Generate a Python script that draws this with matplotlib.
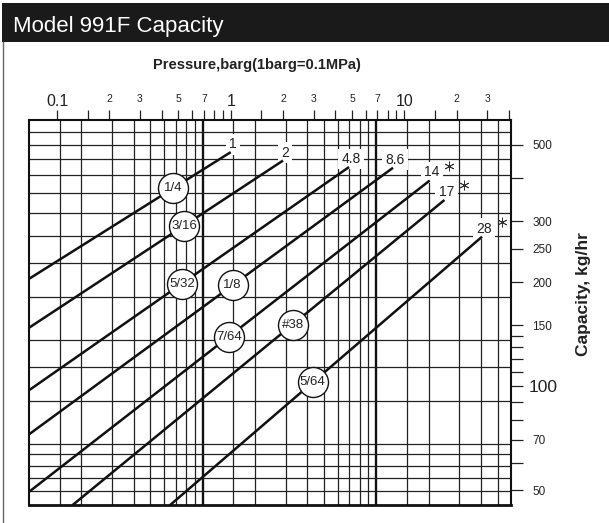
import numpy as np
import matplotlib
matplotlib.use("Agg")
import matplotlib.pyplot as plt
from matplotlib.patches import Rectangle
from matplotlib.lines import Line2D
from matplotlib.ticker import FixedLocator, FixedFormatter, NullLocator
from matplotlib.transforms import offset_copy

plt.rcParams['font.family'] = ['Liberation Sans', 'DejaVu Sans']

PSI_PER_BARG = 14.5038
LB_PER_KG = 2.20462

# ---------------- data ----------------
max_pressure_labels = ['1', '2', '4.8', '8.6', '14', '17', '28']
orifice_labels = ['1/4', '3/16', '5/32', '1/8', '7/64', '#38', '5/64']
start_pressure = [0.0689, 0.0689, 0.0689, 0.0689, 0.0689, 0.123, 0.448]   # barg
start_capacity = [204.6, 147.7, 97.4, 72.6, 49.5, 45.36, 45.36]           # kg/hr
end_pressure = [1.0, 2.0, 4.8, 8.6, 14.0, 17.0, 28.0]                     # barg
end_capacity = [476, 450, 431, 429, 394, 346, 271]                        # kg/hr
orifice_label_pressure = [0.468, 0.539, 0.523, 1.024, 0.976, 2.27, 2.96]  # barg
asterisk = [False, False, False, False, True, True, True]

grid_psi = [1.5, 2, 3, 4, 5, 6, 7, 8, 9, 15, 20, 30, 40, 50, 60, 70, 80, 90,
            150, 200, 300, 400, 500]
thick_psi = [10, 100]
grid_lb = [110, 120, 130, 140, 150, 200, 250, 300, 400, 500, 600, 700, 800,
           900, 1000, 1100, 1200]
x_limits_psi = (1, 600)
y_limits_lb = (100, 1300)

top_ticks = [0.1, 0.15, 0.2, 0.3, 0.4, 0.5, 0.6, 0.7, 0.8, 0.9, 1, 1.5, 2, 3,
             4, 5, 6, 7, 8, 9, 10, 15, 20, 30, 40]
top_labels = ['0.1', '', '2', '3', '', '5', '', '7', '', '', '1', '', '2', '3',
              '', '5', '', '7', '', '', '10', '', '2', '3', '']
top_large = ['0.1', '1', '10']
right_ticks = [50, 60, 70, 80, 90, 100, 110, 120, 130, 140, 150, 200, 250, 300,
               400, 500]
right_labels = ['50', '', '70', '', '', '100', '', '', '', '', '150', '200',
                '250', '300', '', '500']

# ---------------- figure ----------------
W, H = 609, 523
fig = plt.figure(figsize=(W / 100, H / 100), dpi=100)
fig.patch.set_facecolor('white')

# title bar
fig.add_artist(Rectangle((1.7 / W, 1 - 41.7 / H), 1, (41.7 - 3.3) / H,
                         transform=fig.transFigure, facecolor='#1a1a1a',
                         edgecolor='none'))
fig.text(12.7 / W, 1 - 31.7 / H, 'Model 991F Capacity', color='white',
         fontsize=16, ha='left', va='baseline')
fig.add_artist(Line2D([2.7 / W, 2.7 / W], [0, 1 - 41.7 / H],
                      transform=fig.transFigure, color='#666666', lw=1.0))

fig.text(257 / W, 1 - 68.5 / H, 'Pressure,barg(1barg=0.1MPa)', fontsize=10.5,
         fontweight='bold', ha='center', va='baseline', color='#222222')
fig.text(583.5 / W, 1 - 294 / H, 'Capacity, kg/hr', fontsize=12.5,
         fontweight='bold', rotation=90, ha='center', va='center',
         color='#222222')

ax = fig.add_axes([29 / W, 18 / H, 482.5 / W, 385 / H])
ax.set_xscale('log')
ax.set_yscale('log')
ax.set_xlim(x_limits_psi[0] / PSI_PER_BARG, x_limits_psi[1] / PSI_PER_BARG)
ax.set_ylim(y_limits_lb[0] / LB_PER_KG, y_limits_lb[1] / LB_PER_KG)

# grid (psi / lb/hr)
for p in grid_psi:
    ax.axvline(p / PSI_PER_BARG, color='#222222', lw=0.9, zorder=1)
for p in thick_psi:
    ax.axvline(p / PSI_PER_BARG, color='#111111', lw=1.7, zorder=1)
for q in grid_lb:
    ax.axhline(q / LB_PER_KG, color='#222222', lw=0.9, zorder=1)

for s in ax.spines.values():
    s.set_linewidth(1.5)
    s.set_color('#111111')
ax.spines['bottom'].set_linewidth(2.0)

# top ticks (barg)
ax.xaxis.set_major_locator(FixedLocator(top_ticks))
ax.xaxis.set_major_formatter(FixedFormatter(top_labels))
ax.xaxis.set_minor_locator(NullLocator())
ax.tick_params(axis='x', which='major', top=True, bottom=False, labeltop=True,
               labelbottom=False, direction='out', length=7.2, width=0.9,
               color='#222222', labelsize=7.5, pad=4, labelcolor='#222222')
for t, lab in zip(ax.xaxis.get_major_ticks(), top_labels):
    if lab in top_large:
        t.label2.set_fontsize(11.5)
        t.set_pad(1.0)

# right ticks (kg/hr)
ax.yaxis.set_major_locator(FixedLocator(right_ticks))
ax.yaxis.set_major_formatter(FixedFormatter(right_labels))
ax.yaxis.set_minor_locator(NullLocator())
ax.tick_params(axis='y', which='major', left=False, right=True,
               labelleft=False, labelright=True, direction='out', length=8.6,
               width=0.9, color='#222222', labelsize=8.5, pad=6.5,
               labelcolor='#222222')
for t, lab in zip(ax.yaxis.get_major_ticks(), right_labels):
    if lab == '100':
        t.label2.set_fontsize(12.5)
        t.tick2line.set_markeredgewidth(2.0)
        t.tick2line.set_markersize(10)
        t.set_pad(3.5)

# orifice lines
for i in range(len(max_pressure_labels)):
    xs = [start_pressure[i], end_pressure[i]]
    ys = [start_capacity[i], end_capacity[i]]
    ax.plot(xs, ys, color='#111111', lw=1.8, solid_capstyle='butt', zorder=3)

    ax.annotate(max_pressure_labels[i], xy=(end_pressure[i], end_capacity[i]),
                xytext=(1.5, 5.8), textcoords='offset points', ha='center',
                va='center', fontsize=10, color='#222222', zorder=2,
                bbox=dict(boxstyle='square,pad=0.25', fc='white', ec='none'))
    if asterisk[i]:
        tr = offset_copy(ax.transData, fig=fig, x=14, y=10.5, units='points')
        ax.plot([end_pressure[i]], [end_capacity[i]], marker=(6, 2, 0), ms=7,
                mew=0.6, color='#333333', transform=tr, zorder=4)

    # orifice size circle placed on its line
    lp = np.log10(orifice_label_pressure[i])
    lc = np.interp(lp, np.log10(xs), np.log10(ys))
    cy = 10 ** lc
    ax.plot([orifice_label_pressure[i]], [cy], 'o', ms=21.6, mfc='white',
            mec='#111111', mew=1.0, zorder=4)
    ax.text(orifice_label_pressure[i], cy, orifice_labels[i], ha='center',
            va='center', fontsize=9.5, color='#222222', zorder=5)

fig.savefig('out.png', dpi=100)
